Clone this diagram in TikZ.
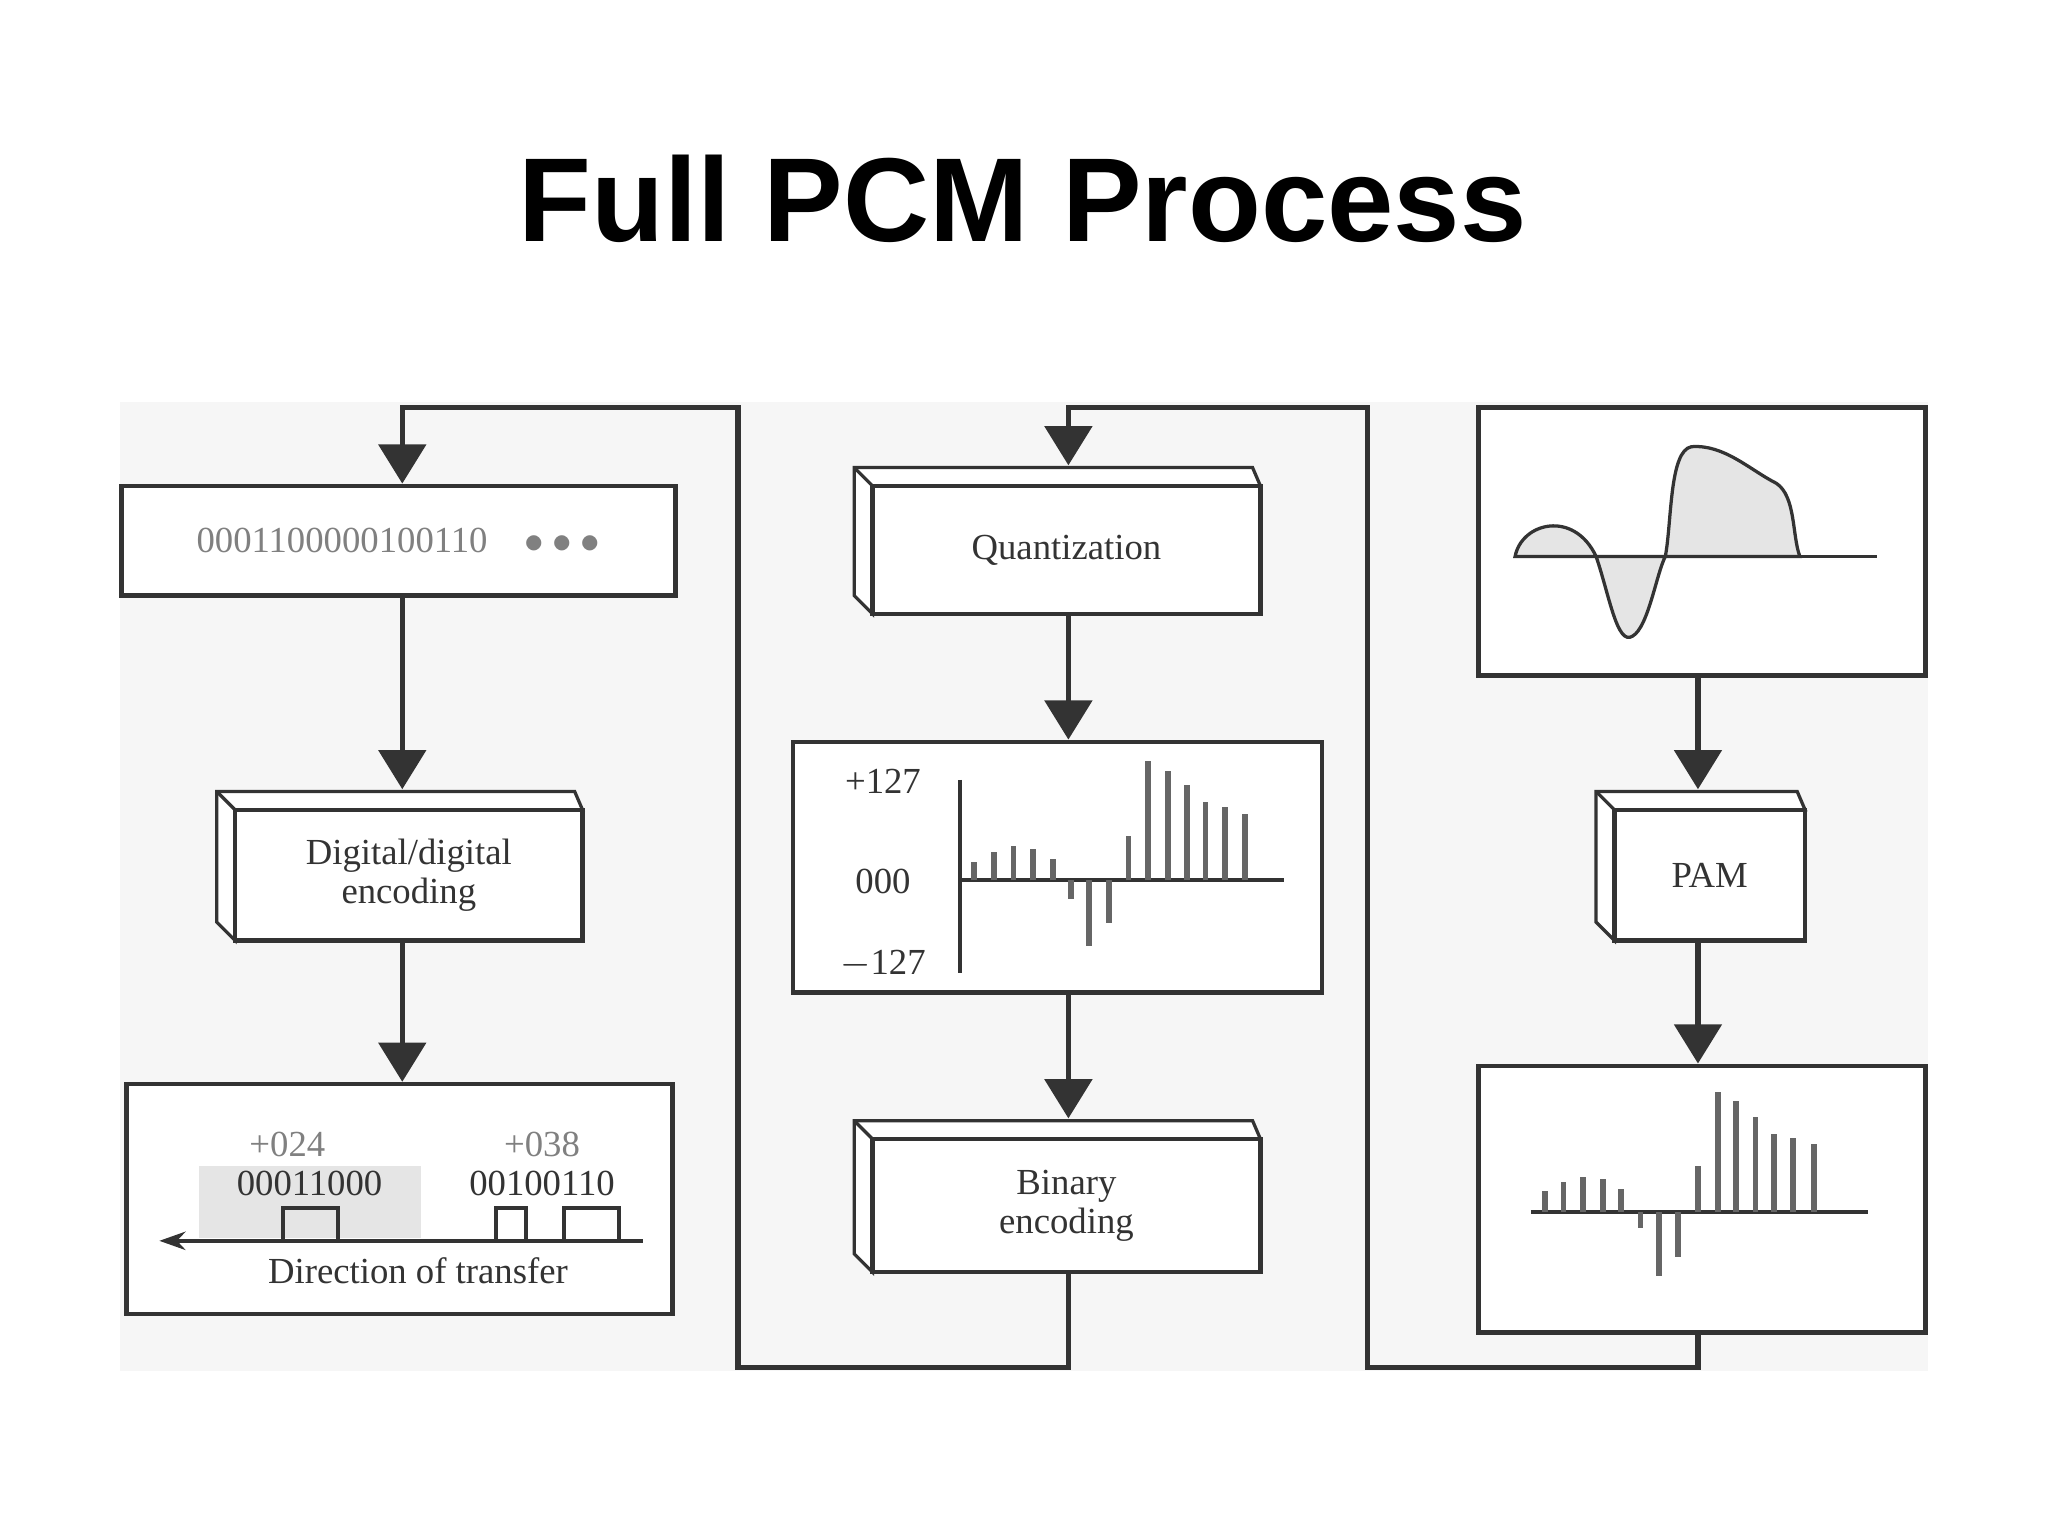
\documentclass[tikz,border=0pt]{standalone}
\usepackage{fontspec}
\setmainfont{Liberation Serif}
\newfontfamily\titlefont{Liberation Sans}
\usetikzlibrary{arrows.meta}
\definecolor{ink}{HTML}{333333}
\tikzset{
 u/.style={x=0.1mm,y=-0.1mm},
 ln/.style={line width=0.4mm,draw=ink},
 arr/.style={ln,-{Triangle[width=3.6mm,length=3mm]}},
 bx/.style={draw=ink,line width=0.35mm,fill=white,inner sep=0pt},
 lbl/.style={font=\fontsize{8pt}{8.5pt}\selectfont,align=center,text=ink},
 bar/.style={draw=gray!80!black,line width=0.45mm},
 pulse/.style={draw=ink,line width=0.3mm}
}
\newcommand\threed[6]{% name, x1,y1,x2,y2,text
 \fill[white,draw=ink,line width=0.25mm] (#2-14,#3-14) -- (#4-6,#3-14) -- (#4,#3) -- (#2,#3) -- (#2,#5) -- (#2-14,#5-14) -- cycle;
 \draw[ink,line width=0.25mm] (#2-14,#3-14) -- (#2,#3);
 \node[bx,minimum width={(#4-#2)*0.1mm},minimum height={(#5-#3)*0.1mm},lbl] (#1) at ({(#2+#4)/2},{(#3+#5)/2}) {#6};
}
\begin{document}
\begin{tikzpicture}[u]
\useasboundingbox (0,0) rectangle (1568,1176);
\fill[white] (0,0) rectangle (1568,1176);
\fill[gray!7] (92,308) rectangle (1476,1050);
\node[font=\titlefont\bfseries\fontsize{26pt}{28pt}\selectfont] (title) at (783,152) {Full PCM Process};

% left column
\node[bx,minimum width=42.4mm,minimum height=8.4mm,lbl,text=gray] (b1) at (305,414) {0001100000100110\quad $\bullet\bullet\bullet$};
\threed{dd}{180}{620}{446}{720}{Digital/digital\\encoding}
\node[bx,minimum width=41.8mm,minimum height=17.6mm] (b3) at (306,918) {};
\fill[gray!20] (152,893) rectangle (322,948);
\node[lbl,text=gray] (p24) at (220,876) {+024};
\node[lbl,text=gray] (p38) at (415,876) {+038};
\node[lbl] (c1) at (237,906) {00011000};
\node[lbl] (c2) at (415,906) {00100110};
\draw[pulse] (217,950) rectangle (259,925);
\draw[pulse] (380,950) rectangle (403,925);
\draw[pulse] (432,950) rectangle (474,925);
\draw[pulse,-{Stealth[length=2mm,width=1.4mm]}] (492,950) -- (122,950);
\node[lbl] (dir) at (320,973) {Direction of transfer};

% middle column
\threed{qz}{668}{372}{965}{470}{Quantization}
\node[bx,minimum width=40.5mm,minimum height=19.2mm] (qb) at (809.5,664) {};
\node[lbl] (l1) at (676,598) {+127};
\node[lbl] (l2) at (676,675) {000};
\node[lbl] (l3) at (676,738) {$-$127};
\draw[ln,line width=0.3mm] (735,597) -- (735,745);
\draw[ln,line width=0.3mm] (735,674) -- (983,674);
\foreach \x/\y in {746/660,761/652,776/648,791/650,806/658,820/688,834/724,849/707,864/640,879/583,894/590,909/601,923/614,938/618,953/623}
  \draw[bar] (\x,674) -- (\x,\y);
\threed{be}{668}{872}{965}{974}{Binary\\encoding}

% right column
\node[bx,minimum width=34.2mm,minimum height=20.5mm] (wb) at (1303,414.5) {};
\fill[gray!20,draw=ink,line width=0.25mm] (1160,426) .. controls (1165,400) and (1205,390) .. (1222,426)
  .. controls (1232,455) and (1238,495) .. (1250,487) .. controls (1262,480) and (1268,440) .. (1275,426)
  .. controls (1280,400) and (1278,345) .. (1295,342) .. controls (1320,340) and (1340,360) .. (1360,370)
  .. controls (1375,380) and (1372,410) .. (1378,426) -- cycle;
\draw[ink,line width=0.25mm] (1160,426) -- (1437,426);
\threed{pam}{1236}{620}{1382}{720}{PAM}
\node[bx,minimum width=34.2mm,minimum height=20.4mm] (rb) at (1303,918) {};
\draw[ink,line width=0.25mm] (1172,928) -- (1430,928);
\foreach \x/\y in {1183/912,1197/905,1212/901,1227/903,1241/910,1256/940,1270/977,1285/962,1300/893,1315/836,1329/843,1344/855,1358/868,1373/871,1389/876}
  \draw[bar] (\x,928) -- (\x,\y);

% arrows (vertical)
\draw[arr] ([xshift=0.3mm]b1.south) -- ([xshift=0.3mm,yshift=1.4mm]b1.south |- dd.north);
\draw[arr] ([xshift=0.3mm]b1.south |- dd.south) -- ([xshift=0.3mm]b1.south |- b3.north);
\draw[arr] ([xshift=0.15mm]qz.south) -- ([xshift=0.15mm]qz.south |- qb.north);
\draw[arr] ([xshift=0.15mm]qz.south |- qb.south) -- ([xshift=0.15mm,yshift=1.4mm]qz.south |- be.north);
\draw[arr] ([xshift=-0.3mm]wb.south) -- ([xshift=-0.3mm,yshift=1.4mm]wb.south |- pam.north);
\draw[arr] ([xshift=-0.3mm]wb.south |- pam.south) -- ([xshift=-0.3mm]wb.south |- rb.north);
\coordinate (f1) at (565,1047);
\coordinate (f2) at (565,312);
\coordinate (g1) at (1047,1047);
\coordinate (g2) at (1047,312);
\draw[arr] ([xshift=0.15mm]be.south) |- (f1) -- (f2) -| ([xshift=0.3mm]b1.north);
\draw[arr] ([xshift=-0.3mm]rb.south) |- (g1) -- (g2) -| ([xshift=0.15mm,yshift=1.4mm]qz.north);
\end{tikzpicture}
\end{document}
